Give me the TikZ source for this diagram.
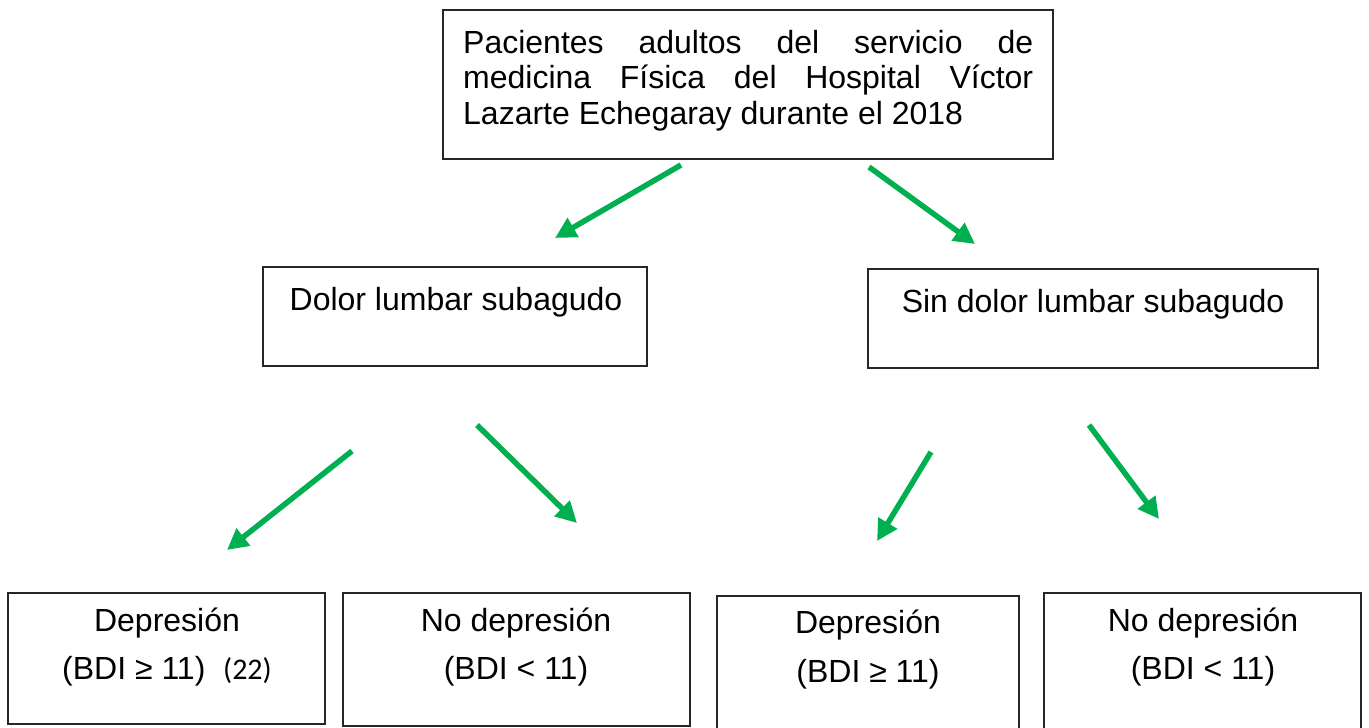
\documentclass[tikz,border=0pt]{standalone}
\usepackage{fontspec}
\setmainfont{Liberation Sans}
\newfontfamily\calfont{Carlito}
\usetikzlibrary{arrows.meta}
\definecolor{arrowgreen}{RGB}{0,176,80}
\begin{document}
\begin{tikzpicture}[x=1pt,y=-1pt,
  box/.style={draw=black!85,line width=1.2pt,fill=none,inner sep=0pt},
  lbl/.style={inner sep=0pt,font=\fontsize{32}{36}\selectfont},
  garrow/.style={draw=arrowgreen,line width=5.5pt,-{Triangle[length=21pt,width=21pt]}}]
\useasboundingbox (0,0) rectangle (1369,728);
\clip (0,0) rectangle (1369,728);
\fill[white] (0,0) rectangle (1369,728);
% boxes
\node[box,minimum width=610pt,minimum height=149pt] (top) at (748,84.5) {};
\node[box,minimum width=384pt,minimum height=99pt] (dolor) at (455,316.5) {};
\node[box,minimum width=450pt,minimum height=99pt] (sindolor) at (1093,318.5) {};
\node[box,minimum width=317pt,minimum height=131pt] (dep1) at (166.5,658.5) {};
\node[box,minimum width=347pt,minimum height=133pt] (nodep1) at (516.5,659.5) {};
\node[box,minimum width=302pt,minimum height=150pt] (dep2) at (868,671) {};
\node[box,minimum width=317pt,minimum height=150pt] (nodep2) at (1202.5,668) {};
% texts
\node[lbl,anchor=north west,text width=570pt,align=justify,font=\fontsize{32}{35.5}\selectfont] (toptxt) at (463,30)
  {\hyphenpenalty=10000 Pacientes adultos del servicio de\linebreak medicina Física del Hospital Víctor\linebreak Lazarte Echegaray durante el 2018};
\node[lbl] (dolortxt) at (456,302) {Dolor lumbar subagudo};
\node[lbl] (sintxt) at (1093,304) {Sin dolor lumbar subagudo};
\node[lbl] (dep1a) at (167,623) {Depresión};
\node[lbl] (dep1b) at (167,671) {(BDI ≥ 11)\ \ {\calfont\fontsize{30}{34}\selectfont(22)}};
\node[lbl] (nodep1a) at (516,623) {No depresión};
\node[lbl] (nodep1b) at (516,671) {(BDI < 11)};
\node[lbl] (dep2a) at (868,625) {Depresión};
\node[lbl] (dep2b) at (868,674) {(BDI ≥ 11)};
\node[lbl] (nodep2a) at (1203,623) {No depresión};
\node[lbl] (nodep2b) at (1203,671) {(BDI < 11)};
% arrow coordinates
\coordinate (a1s) at (681,165); \coordinate (a1e) at (555,238);
\coordinate (a2s) at (869,167); \coordinate (a2e) at (975,244);
\coordinate (a3s) at (352,451); \coordinate (a3e) at (227,550);
\coordinate (a4s) at (477,425); \coordinate (a4e) at (577,523);
\coordinate (a5s) at (931,452); \coordinate (a5e) at (877,541);
\coordinate (a6s) at (1089,425); \coordinate (a6e) at (1159,519);
\draw[garrow] (a1s) -- (a1e);
\draw[garrow] (a2s) -- (a2e);
\draw[garrow] (a3s) -- (a3e);
\draw[garrow] (a4s) -- (a4e);
\draw[garrow] (a5s) -- (a5e);
\draw[garrow] (a6s) -- (a6e);
\end{tikzpicture}
\end{document}
